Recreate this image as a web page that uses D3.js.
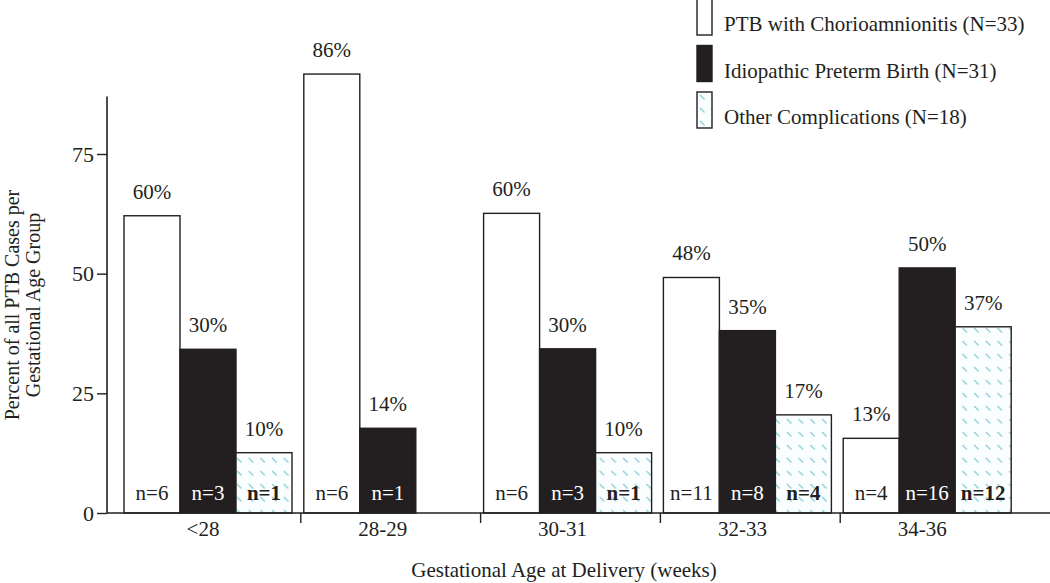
<!DOCTYPE html>
<html>
<head>
<meta charset="utf-8">
<script src="https://cdn.jsdelivr.net/npm/d3@7"></script>
<style>
  body { margin: 0; background: #fff; }
  svg { display: block; font-family: "Liberation Serif", "Times New Roman", serif; }
</style>
</head>
<body>
<div id="wrapper"></div>
<script>
// 1. Data
const groups = ["<28", "28-29", "30-31", "32-33", "34-36"];
const seriesNames = [
  "PTB with Chorioamnionitis (N=33)",
  "Idiopathic Preterm Birth (N=31)",
  "Other Complications (N=18)",
];
const chorioValues = [62.1, 91.7, 62.6, 49.2, 15.6];
const idiopathicValues = [34.2, 17.7, 34.3, 38.1, 51.2];
const otherValues = [12.6, null, 12.6, 20.5, 38.9];
const chorioLabels = ["60%", "86%", "60%", "48%", "13%"];
const idiopathicLabels = ["30%", "14%", "30%", "35%", "50%"];
const otherLabels = ["10%", null, "10%", "17%", "37%"];
const chorioN = ["n=6", "n=6", "n=6", "n=11", "n=4"];
const idiopathicN = ["n=3", "n=1", "n=3", "n=8", "n=16"];
const otherN = ["n=1", null, "n=1", "n=4", "n=12"];
const yTicks = [0, 25, 50, 75];
const yAxisTop = 87;

const seriesKeys = ["chorio", "idiopathic", "other"];
const valuesByKey = { chorio: chorioValues, idiopathic: idiopathicValues, other: otherValues };
const labelsByKey = { chorio: chorioLabels, idiopathic: idiopathicLabels, other: otherLabels };
const nByKey = { chorio: chorioN, idiopathic: idiopathicN, other: otherN };

const rows = [];
groups.forEach((g, i) => {
  seriesKeys.forEach((k) => {
    if (valuesByKey[k][i] == null) return;
    rows.push({ group: g, key: k, value: valuesByKey[k][i], label: labelsByKey[k][i], n: nByKey[k][i] });
  });
});

// 2. Dimensions
const width = 1050;
const height = 583;
const ink = "#231f20";

const svg = d3.select("#wrapper").append("svg").attr("width", width).attr("height", height);

const defs = svg.append("defs");
const pat = defs.append("pattern")
  .attr("id", "hatch")
  .attr("patternUnits", "userSpaceOnUse")
  .attr("width", 11.7)
  .attr("height", 13)
  .attr("x", 0).attr("y", 0);
pat.append("rect").attr("width", 11.7).attr("height", 13).attr("fill", "#fbfefe");
pat.append("line")
  .attr("x1", 3).attr("y1", 3).attr("x2", 7.5).attr("y2", 7.5)
  .attr("stroke", "#8fd0d8").attr("stroke-width", 1.4);

const fills = { chorio: "#ffffff", idiopathic: ink, other: "url(#hatch)" };

// 3. Scales
const x = d3.scaleBand().domain(groups).range([121, 1020]);
const xInner = d3.scaleBand().domain(seriesKeys).range([3, 171]);
const y = d3.scaleLinear().domain([0, 75]).range([513, 154]);

// 4. Bars
const bars = svg.append("g");
bars.selectAll("rect")
  .data(rows)
  .join("rect")
  .attr("x", (d) => x(d.group) + xInner(d.key))
  .attr("width", xInner.bandwidth())
  .attr("y", (d) => y(d.value))
  .attr("height", (d) => y(0) - y(d.value))
  .attr("fill", (d) => fills[d.key])
  .attr("stroke", ink)
  .attr("stroke-width", 1.4);

// percent labels
svg.append("g").selectAll("text")
  .data(rows)
  .join("text")
  .attr("x", (d) => x(d.group) + xInner(d.key) + xInner.bandwidth() / 2)
  .attr("y", (d) => y(d.value) - 17)
  .attr("text-anchor", "middle")
  .style("font-size", "21px")
  .style("fill", ink)
  .text((d) => d.label);

// n labels
svg.append("g").selectAll("text")
  .data(rows)
  .join("text")
  .attr("x", (d) => x(d.group) + xInner(d.key) + xInner.bandwidth() / 2)
  .attr("y", y(0) - 13)
  .attr("text-anchor", "middle")
  .style("font-size", "21px")
  .style("font-weight", (d) => (d.key === "other" ? "bold" : "normal"))
  .style("fill", (d) => (d.key === "idiopathic" ? "#fff" : ink))
  .text((d) => d.n);

// 5. Axes
const yAxis = svg.append("g")
  .attr("transform", "translate(107,0)")
  .call(d3.axisLeft(y).tickValues(yTicks).tickSize(10).tickPadding(3));
yAxis.select(".domain").remove();
yAxis.selectAll("line").attr("stroke", ink).attr("stroke-width", 1.4);
yAxis.selectAll("text")
  .style("font-family", "Liberation Serif, serif")
  .style("font-size", "22px")
  .style("fill", ink);
yAxis.append("line")
  .attr("x1", 0).attr("x2", 0)
  .attr("y1", y(yAxisTop)).attr("y2", y(0))
  .attr("stroke", ink).attr("stroke-width", 1.6);

// x axis baseline + ticks between groups
const xAxis = svg.append("g");
xAxis.append("line")
  .attr("x1", 107).attr("x2", width)
  .attr("y1", y(0)).attr("y2", y(0))
  .attr("stroke", ink).attr("stroke-width", 1.6);
xAxis.selectAll(".tick")
  .data(groups.slice(1))
  .join("line")
  .attr("x1", (g) => x(g)).attr("x2", (g) => x(g))
  .attr("y1", y(0)).attr("y2", y(0) + 10)
  .attr("stroke", ink).attr("stroke-width", 1.4);
xAxis.selectAll(".glabel")
  .data(groups)
  .join("text")
  .attr("x", (g) => x(g) + 82)
  .attr("y", 536)
  .attr("text-anchor", "middle")
  .style("font-size", "21px")
  .style("fill", ink)
  .text((g) => g);

// axis titles
svg.append("text")
  .attr("x", 564)
  .attr("y", 577)
  .attr("text-anchor", "middle")
  .style("font-size", "21px")
  .style("fill", ink)
  .text("Gestational Age at Delivery (weeks)");

const yTitle = svg.append("text")
  .attr("transform", "translate(0,305) rotate(-90)")
  .attr("text-anchor", "middle")
  .style("font-size", "20px")
  .style("fill", ink);
yTitle.append("tspan").attr("x", 0).attr("y", 19).text("Percent of all PTB Cases per");
yTitle.append("tspan").attr("x", 0).attr("y", 40).text("Gestational Age Group");

// 6. Legend
const legend = svg.append("g").attr("transform", "translate(697,0)");
const legendItems = legend.selectAll("g")
  .data(seriesKeys)
  .join("g")
  .attr("transform", (d, i) => `translate(0,${-1 + i * 46.5})`);
legendItems.append("rect")
  .attr("width", 15)
  .attr("height", 36)
  .attr("fill", (d) => fills[d])
  .attr("stroke", ink)
  .attr("stroke-width", 1.4);
legendItems.append("text")
  .attr("x", 27)
  .attr("y", 32)
  .style("font-size", "21px")
  .style("fill", ink)
  .text((d, i) => seriesNames[i]);
</script>
</body>
</html>
